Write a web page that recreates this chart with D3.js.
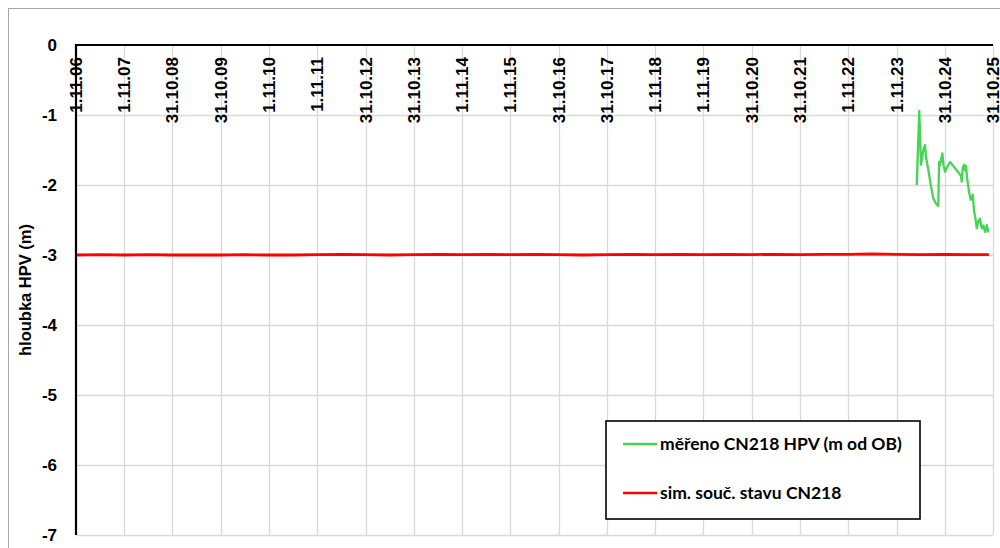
<!DOCTYPE html>
<html>
<head>
<meta charset="utf-8">
<script src="https://cdn.jsdelivr.net/npm/d3@7"></script>
<style>
  html, body { margin: 0; padding: 0; background: #fff; }
  svg { display: block; }
</style>
</head>
<body>
<svg id="chart" width="1000" height="548"></svg>
<script>
// Axis ticks (hydrological-year boundaries)
const tickLabels = ["1.11.06","1.11.07","31.10.08","31.10.09","1.11.10","1.11.11","31.10.12","31.10.13",
  "1.11.14","1.11.15","31.10.16","31.10.17","1.11.18","1.11.19","31.10.20","31.10.21","1.11.22",
  "1.11.23","31.10.24","31.10.25"];
const yTicks = [0, -1, -2, -3, -4, -5, -6, -7];

// Measured groundwater depth, CN218 (m below ground)
const measuredDates = ["2024-04-02","2024-04-21","2024-05-04","2024-05-22","2024-06-04","2024-06-11",
  "2024-06-29","2024-07-19","2024-08-05","2024-08-24","2024-09-12","2024-09-18","2024-09-25",
  "2024-10-03","2024-10-13","2024-10-22","2024-11-02","2024-11-19","2024-12-10","2025-01-17",
  "2025-03-03","2025-03-08","2025-03-16","2025-03-26","2025-04-02","2025-04-10","2025-04-20",
  "2025-05-03","2025-05-15","2025-05-31","2025-06-09","2025-06-22","2025-06-30","2025-07-12",
  "2025-07-25","2025-08-07","2025-08-19","2025-09-01","2025-09-14","2025-09-26"];
const measuredValues = [-2.00,-0.94,-1.71,-1.50,-1.43,-1.60,
  -1.79,-2.02,-2.19,-2.26,-2.30,-1.67,-1.72,
  -1.64,-1.55,-1.72,-1.81,-1.74,-1.67,-1.76,
  -1.87,-1.95,-1.76,-1.71,-1.79,-1.73,-1.93,
  -2.10,-2.21,-2.14,-2.36,-2.50,-2.62,-2.52,
  -2.48,-2.62,-2.58,-2.67,-2.57,-2.68];

// Simulated current state, CN218
const simDates = ["2006-11-01","2007-05-01","2007-11-01","2008-05-01","2008-11-01","2009-05-01",
  "2009-11-01","2010-05-01","2010-11-01","2011-05-01","2011-11-01","2012-05-01","2012-11-01",
  "2013-05-01","2013-11-01","2014-05-01","2014-11-01","2015-05-01","2015-11-01","2016-05-01",
  "2016-11-01","2017-05-01","2017-11-01","2018-05-01","2018-11-01","2019-05-01","2019-11-01",
  "2020-05-01","2020-11-01","2021-05-01","2021-11-01","2022-05-01","2022-11-01","2023-05-01",
  "2023-11-01","2024-05-01","2024-11-01","2025-05-01","2025-09-30"];
const simValues = [-3.00,-2.995,-3.00,-2.995,-3.00,-3.00,
  -3.00,-2.995,-3.00,-3.00,-2.995,-2.99,-2.995,
  -3.00,-2.995,-2.99,-2.995,-2.99,-2.995,-2.99,
  -2.995,-3.00,-2.995,-2.99,-2.995,-2.99,-2.995,
  -2.99,-2.995,-2.99,-2.995,-2.99,-2.99,-2.985,
  -2.99,-2.995,-2.99,-2.995,-2.995];

const seriesNames = ["měřeno CN218 HPV (m od OB)", "sim. souč. stavu CN218"];
const seriesColors = ["#45d553", "#ff0000"];

const parseTick = s => {
  const [d, m, y] = s.split(".").map(Number);
  return new Date(2000 + y, m - 1, d);
};
const parseIso = d3.timeParse("%Y-%m-%d");

const svg = d3.select("#chart");
const plot = { left: 76, right: 993, top: 45, bottom: 535 };

const tickDates = tickLabels.map(parseTick);
const x = d3.scaleTime()
  .domain([tickDates[0], tickDates[tickDates.length - 1]])
  .range([plot.left, plot.right]);
const y = d3.scaleLinear().domain([0, -7]).range([plot.top, plot.bottom]);

// chart area frame
svg.append("rect")
  .attr("x", 8.5).attr("y", 8.5).attr("width", 1010).attr("height", 560)
  .attr("fill", "#fff").attr("stroke", "#a6a6a6").attr("stroke-width", 1);

// gridlines
const grid = svg.append("g");
grid.selectAll("line.h").data(yTicks.slice(1)).join("line")
  .attr("x1", plot.left).attr("x2", plot.right)
  .attr("y1", d => Math.round(y(d)) + 0.5).attr("y2", d => Math.round(y(d)) + 0.5)
  .attr("stroke", "#d9d9d9").attr("stroke-width", 1.3);
grid.selectAll("line.v").data(tickDates.slice(1)).join("line")
  .attr("x1", d => Math.round(x(d)) + 0.5).attr("x2", d => Math.round(x(d)) + 0.5)
  .attr("y1", plot.top).attr("y2", plot.bottom)
  .attr("stroke", "#d9d9d9").attr("stroke-width", 1.3);

// series
const line = d3.line().x(d => x(d.date)).y(d => y(d.value));
const simData = simDates.map((d, i) => ({ date: parseIso(d), value: simValues[i] }));
const measData = measuredDates.map((d, i) => ({ date: parseIso(d), value: measuredValues[i] }));

svg.append("path").datum(simData)
  .attr("d", line).attr("fill", "none")
  .attr("stroke", seriesColors[1]).attr("stroke-width", 2.8);
svg.append("path").datum(measData)
  .attr("d", line).attr("fill", "none")
  .attr("stroke", seriesColors[0]).attr("stroke-width", 2.3)
  .attr("stroke-linejoin", "round");

// axes lines (top = 0 m, left)
svg.append("line")
  .attr("x1", plot.left).attr("x2", plot.right)
  .attr("y1", plot.top).attr("y2", plot.top)
  .attr("stroke", "#000").attr("stroke-width", 2.2);
svg.append("line")
  .attr("x1", plot.left).attr("x2", plot.left)
  .attr("y1", plot.top - 1).attr("y2", plot.bottom)
  .attr("stroke", "#000").attr("stroke-width", 2.2);

// x tick labels, rotated
const font = "'Liberation Sans', Arial, sans-serif";
svg.append("g").selectAll("text").data(tickDates).join("text")
  .attr("transform", d => `translate(${x(d) + 6},${57}) rotate(-90)`)
  .attr("text-anchor", "end")
  .attr("font-family", font).attr("font-weight", "bold").attr("font-size", 17)
  .attr("fill", "#000")
  .text((d, i) => tickLabels[i]);

// y tick labels
svg.append("g").selectAll("text").data(yTicks).join("text")
  .attr("x", 57).attr("y", d => y(d) + 6)
  .attr("text-anchor", "end")
  .attr("font-family", font).attr("font-weight", "bold").attr("font-size", 17)
  .attr("fill", "#000")
  .text(d => d);

// y axis title
svg.append("text")
  .attr("transform", `translate(31,${(plot.top + plot.bottom) / 2}) rotate(-90)`)
  .attr("text-anchor", "middle")
  .attr("font-family", font).attr("font-weight", "bold").attr("font-size", 16.5)
  .text("hloubka HPV (m)");

// legend
const legend = svg.append("g");
legend.append("rect")
  .attr("x", 606).attr("y", 421).attr("width", 314).attr("height", 98)
  .attr("fill", "#fff").attr("stroke", "#000").attr("stroke-width", 1.6);
const rows = [444, 493];
rows.forEach((ry, i) => {
  legend.append("line")
    .attr("x1", 623).attr("x2", 657).attr("y1", ry).attr("y2", ry)
    .attr("stroke", seriesColors[i]).attr("stroke-width", 2.4);
  legend.append("text")
    .attr("x", 660).attr("y", ry + 6)
    .attr("font-family", "Lato, 'Open Sans', sans-serif").attr("font-weight", "bold")
    .attr("font-size", 17.5).attr("fill", "#000")
    .text(seriesNames[i]);
});
</script>
</body>
</html>
